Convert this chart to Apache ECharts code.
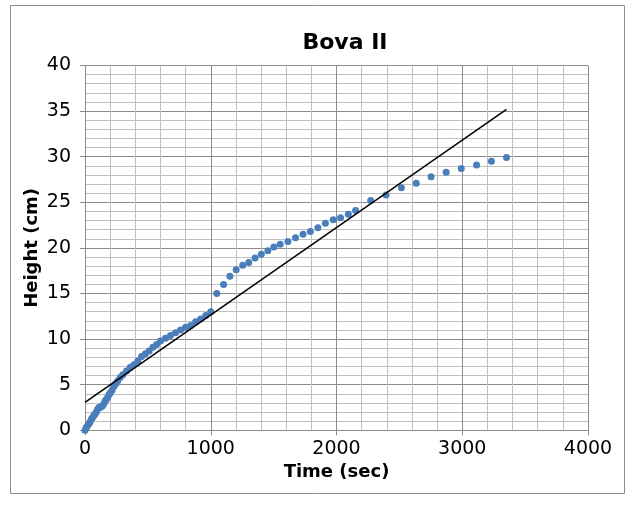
<!DOCTYPE html>
<html>
<head>
<meta charset="utf-8">
<script src="https://cdn.jsdelivr.net/npm/echarts@6/dist/echarts.min.js"></script>
<style>html,body{margin:0;padding:0;background:#fff}#c{width:634px;height:505px}</style>
</head>
<body>
<div id="c"></div>
<script>
// Measured data: time (sec) and height (cm)
const timeSec = [0,10,20,30,40,50,60,70,80,90,100,110,120,130,140,150,160,170,180,190,200,215,230,245,260,280,300,330,360,390,420,450,480,510,540,570,600,640,680,720,760,800,840,880,920,960,1000,
  1048,1102,1152,1202,1254,1302,1352,1402,1454,1502,1552,1614,1674,1734,1792,1852,1912,1974,2032,2094,2152,2272,2394,2516,2634,2752,2872,2992,3114,3232,3352];
const heightCm = [0,0.3,0.5,0.7,0.9,1.2,1.4,1.6,1.8,2.0,2.3,2.5,2.5,2.6,2.7,2.9,3.2,3.4,3.6,3.9,4.1,4.4,4.8,5.1,5.4,5.8,6.1,6.5,6.9,7.2,7.6,8.1,8.4,8.7,9.1,9.4,9.8,10.1,10.4,10.7,11.0,11.3,11.5,11.9,12.2,12.6,13.0,
  15.0,16.0,16.9,17.6,18.1,18.4,18.9,19.3,19.7,20.1,20.4,20.7,21.1,21.5,21.8,22.2,22.7,23.1,23.3,23.7,24.1,25.2,25.8,26.6,27.1,27.8,28.3,28.7,29.1,29.5,29.9];
// Linear trendline end points
const trendTime = [0, 3352];
const trendHeight = [3.05, 35.2];
const xTicks = {min: 0, max: 4000, interval: 1000};
const yTicks = {min: 0, max: 40, interval: 5};
const titleText = 'Bova II';
const xName = 'Time (sec)';
const yName = 'Height (cm)';

const chart = echarts.init(document.getElementById('c'));
const labelFont = {fontFamily: 'DejaVu Sans', fontSize: 19, color: '#000'};
const nameFont = {fontFamily: 'DejaVu Sans', fontWeight: 'bold', fontSize: 18, color: '#000'};
chart.setOption({
  animation: false,
  backgroundColor: '#fff',
  graphic: [{type: 'rect', shape: {x: 10.5, y: 5.5, width: 614, height: 488}, style: {fill: 'none', stroke: '#8c8c8c', lineWidth: 1}, z: -1}],
  title: {text: titleText, left: 340, top: 27, textAlign: 'center',
    textStyle: {fontFamily: 'DejaVu Sans', fontWeight: 'bold', fontSize: 22, color: '#000'}},
  grid: {left: 85, right: 46, top: 65.5, bottom: 74.7},
  xAxis: {type: 'value', min: xTicks.min, max: xTicks.max, interval: xTicks.interval,
    name: xName, nameLocation: 'middle', nameGap: 30, nameTextStyle: nameFont,
    axisLine: {show: true, lineStyle: {color: '#8c8c8c', width: 1}},
    axisTick: {show: true, length: 5, lineStyle: {color: '#8c8c8c'}},
    axisLabel: Object.assign({margin: 9, formatter: v => String(v)}, labelFont),
    splitLine: {show: true, lineStyle: {color: '#8c8c8c', width: 1}},
    minorTick: {show: false, splitNumber: 5},
    minorSplitLine: {show: true, lineStyle: {color: '#c0c0c0', width: 1}}},
  yAxis: {type: 'value', min: yTicks.min, max: yTicks.max, interval: yTicks.interval,
    name: yName, nameLocation: 'middle', nameGap: 44, nameMoveOverlap: false, nameTextStyle: nameFont,
    axisLine: {show: true, lineStyle: {color: '#8c8c8c', width: 1}},
    axisTick: {show: true, length: 5, lineStyle: {color: '#8c8c8c'}},
    axisLabel: Object.assign({margin: 14, formatter: v => String(v)}, labelFont),
    splitLine: {show: true, lineStyle: {color: '#8c8c8c', width: 1}},
    minorTick: {show: false, splitNumber: 5},
    minorSplitLine: {show: true, lineStyle: {color: '#c0c0c0', width: 1}}},
  series: [
    {type: 'scatter', data: timeSec.map((t, i) => [t, heightCm[i]]), symbolSize: 7,
      itemStyle: {color: '#4a7ebb', opacity: 1}, z: 3},
    {type: 'line', data: trendTime.map((t, i) => [t, trendHeight[i]]), showSymbol: false,
      lineStyle: {color: '#000', width: 1.5}, z: 4, silent: true}
  ]
});
</script>
</body>
</html>
